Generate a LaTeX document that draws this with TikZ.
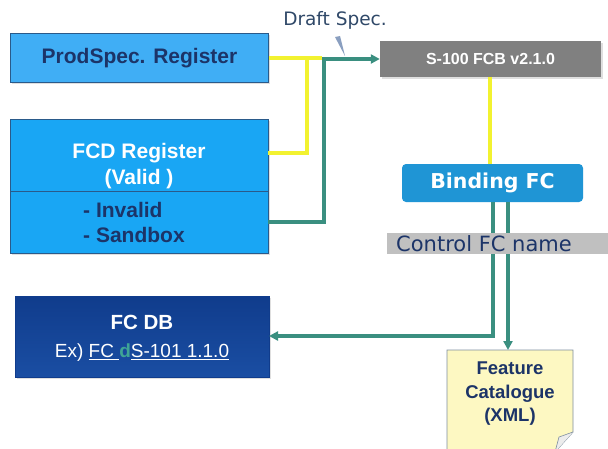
\documentclass[tikz,border=0pt]{standalone}
\usepackage{fontspec}
\setmainfont{Liberation Sans}
\newfontfamily\verd{DejaVu Sans}
\usetikzlibrary{arrows.meta,backgrounds,shadows}
\definecolor{pslight}{HTML}{40AEF5}
\definecolor{fcdblue}{HTML}{19A6F4}
\definecolor{navytxt}{HTML}{1C3468}
\definecolor{boxedge}{HTML}{2A5A8A}
\definecolor{fcbgrey}{HTML}{808080}
\definecolor{bindblue}{HTML}{1F95D5}
\definecolor{ctrlgrey}{HTML}{C0C0C0}
\definecolor{dbblue}{HTML}{103C8C}
\definecolor{dbblue2}{HTML}{1A4EA3}
\definecolor{notefill}{HTML}{FDF8C2}
\definecolor{noteedge}{HTML}{7F8FA0}
\definecolor{lgreen}{HTML}{3A8F80}
\definecolor{dgreen}{HTML}{3FA595}
\definecolor{lyellow}{HTML}{F2F230}
\definecolor{draftc}{HTML}{2F4868}
\definecolor{pointer}{HTML}{8A9FC0}
\tikzset{
  x=1pt,y=-1pt,
  softshadow/.style={drop shadow={opacity=0.25,shadow xshift=1.5pt,shadow yshift=-2pt}},
  regbox/.style={draw=boxedge,line width=0.8pt,inner sep=0pt,softshadow},
  yline/.style={draw=lyellow,line width=4.5pt},
  gline/.style={draw=lgreen,line width=3.2pt},
  garrow/.style={gline,-{Triangle[length=9pt,width=9pt]}},
}
\begin{document}
\begin{tikzpicture}
\useasboundingbox (0,0) rectangle (608,448);
\fill[white] (0,0) rectangle (608,448);
% boxes
\node[regbox,fill=pslight,minimum width=258pt,minimum height=49pt] (ps) at (139.5,57.5) {};
\node[font=\fontsize{21}{24}\selectfont\bfseries,text=navytxt,inner sep=0pt] (pst) at (139.5,58) {ProdSpec. Register};
\node[regbox,fill=fcdblue,minimum width=258pt,minimum height=134pt] (fcd) at (139,186) {};
\draw[boxedge,line width=0.8pt] (10,191) -- (268,191);
\node[align=center,font=\fontsize{21}{26}\selectfont\bfseries,text=white] (fcdt) at (139,166) {FCD Register\\(Valid )};
\node[anchor=west,align=left,font=\fontsize{21}{25}\selectfont\bfseries,text=navytxt,inner sep=0pt] (fcdi) at (83,222) {- Invalid\\- Sandbox};
\node[fill=fcbgrey,minimum width=221pt,minimum height=36pt,inner sep=0pt,softshadow] (fcb) at (490.5,59)
  {\fontsize{16}{19}\selectfont\bfseries\color{white}S-100 FCB v2.1.0};
\node[fill=bindblue,rounded corners=4pt,minimum width=181pt,minimum height=38pt,inner sep=0pt] (bind) at (492.5,183)
  {\verd\fontsize{20.5}{24}\selectfont\bfseries\color{white}Binding FC};
\node[top color=dbblue,bottom color=dbblue2,draw=dbblue,minimum width=254pt,minimum height=81pt,inner sep=0pt,softshadow] (db) at (142,336.5) {};
\node[font=\fontsize{20.5}{24}\selectfont\bfseries,text=white,inner sep=0pt] (dbt) at (142,322) {FC DB};
\node[font=\fontsize{19}{22}\selectfont,text=white,inner sep=0pt] (dbx) at (142,353)
  {Ex) \underline{FC }\textcolor{dgreen}{\bfseries d}\underline{S-101 1.1.0}};
% note
\coordinate (n1) at (447,350);
\coordinate (n2) at (573,350);
\coordinate (n3) at (573,432);
\coordinate (n4) at (555,452);
\coordinate (n5) at (447,452);
\filldraw[fill=notefill,draw=noteedge,line width=0.8pt] (n1) -- (n2) -- (n3) -- (n4) -- (n5) -- cycle;
\filldraw[fill=white!85!gray,draw=noteedge,line width=0.6pt] (n3) -- (559,437) -- (n4);
\node[align=center,font=\fontsize{18.5}{23.5}\selectfont\bfseries,text=navytxt] (note) at (510,394) {Feature\\Catalogue\\(XML)};
% Draft spec
\node[text=draftc,font=\verd\fontsize{18.5}{22}\selectfont,inner sep=0pt] (draft) at (335,20) {Draft Spec.};
\fill[pointer] (335,37) -- (340,36) -- (345,56) -- cycle;
% junction coordinates
\coordinate (jy) at (307,58);
\coordinate (jg) at (324,59);
\coordinate (yend) at (322,58);
\coordinate (fy) at (268,153);
\coordinate (fg) at (268,222);
\coordinate (bl) at (493,202);
\coordinate (br) at (508,202);
\coordinate (bc) at (493,336);
\coordinate (dbe) at (269,336);
\coordinate (ne) at (508,350);
% connectors
\draw[yline] (ps.east |- yend) -- (yend);
\draw[yline] (jy) -- (jy |- fy) -- (fy);
\draw[yline] (fcb.south -| 490,0) -- (bind.north -| 490,0);
\draw[gline] (fg) -- (fg -| jg) -- (jg) -- (356,59);
\draw[garrow] (jg) -- (fcb.west |- jg);
\draw[gline] (bl) -- (bc) -- (300,336);
\draw[garrow] (bc) -- (dbe);
\draw[garrow] (br) -- (ne);
% control band over lines
\node[fill=ctrlgrey,minimum width=221pt,minimum height=21pt,inner sep=0pt] (ctrl) at (497.5,243.5) {};
\node[anchor=west,text=navytxt,font=\verd\fontsize{21}{24}\selectfont,inner sep=0pt] (ctrlt) at (396,244) {Control FC name};
\end{tikzpicture}
\end{document}
